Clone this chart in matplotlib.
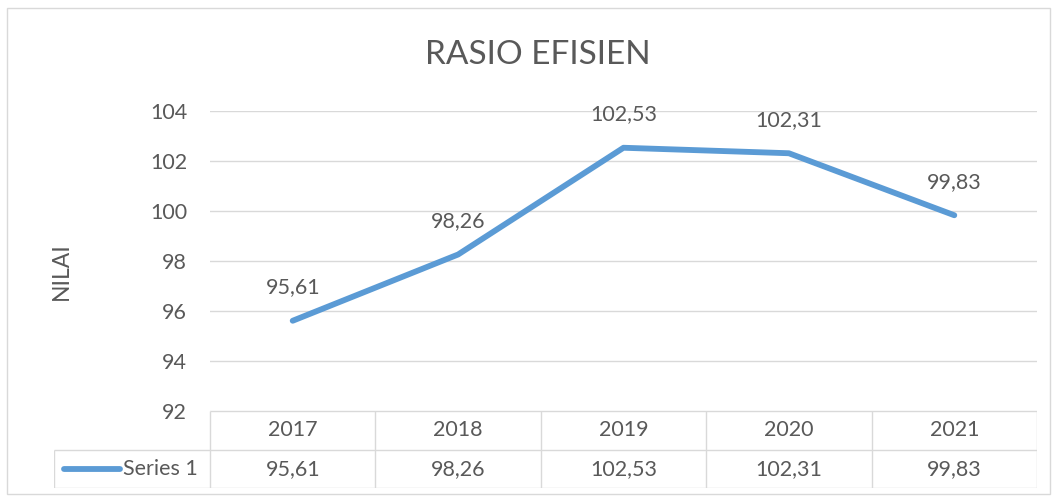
import matplotlib.pyplot as plt
from matplotlib.patches import Rectangle

plt.rcParams['font.family'] = ['Lato', 'DejaVu Sans']

years = ['2017', '2018', '2019', '2020', '2021']
values = [95.61, 98.26, 102.53, 102.31, 99.83]
series_name = 'Series 1'
yticks = [92, 94, 96, 98, 100, 102, 104]

LINE = '#5B9BD5'
TXT = '#595959'
GRID = '#d9d9d9'
FS = 15.5

W, H = 1057, 499
fig = plt.figure(figsize=(W / 100, H / 100), dpi=100)

# chart border
fig.patches.append(Rectangle((7 / W, 5 / H), 1043 / W, 486 / H, transform=fig.transFigure,
                             fill=False, edgecolor='#d9d9d9', linewidth=1))

# main plot area
ax = fig.add_axes([210 / W, (H - 411) / H, (1037 - 210) / W, 300 / H])
x = list(range(len(years)))
ax.plot(x, values, color=LINE, linewidth=4.2, solid_capstyle='round', solid_joinstyle='round', zorder=3)
for xi, v in zip(x, values):
    ax.annotate(f'{v:.2f}'.replace('.', ','), (xi, v), xytext=(0, 24), textcoords='offset points',
                ha='center', va='center', fontsize=FS, color=TXT)
ax.set_xlim(-0.5, len(years) - 0.5)
ax.set_ylim(92, 104)
ax.set_yticks(yticks)
ax.set_yticklabels([str(t) for t in yticks], fontsize=FS, color=TXT)
ax.tick_params(axis='y', length=0, pad=16.5)
ax.tick_params(axis='x', length=0, labelbottom=False)
ax.grid(axis='y', color=GRID, linewidth=1)
ax.set_axisbelow(True)
for s in ax.spines.values():
    s.set_visible(False)

fig.text(61 / W, (H - 271) / H, 'NILAI', rotation=90, ha='center', va='center', fontsize=16.5, color=TXT)
fig.text(538 / W, (H - 55) / H, 'RASIO EFISIEN', ha='center', va='center', fontsize=24, color=TXT)

# data table below the plot
lab_w = (210 - 54) / 165.4
tax = fig.add_axes([54 / W, (H - 488) / H, (1037 - 54) / W, 77 / H])
tax.set_xlim(-0.5 - lab_w, len(years) - 0.5)
tax.set_ylim(0, 2)
tax.axis('off')
left = -0.5 - lab_w
right = len(years) - 0.5
tax.hlines([0, 1], left, right, color=GRID, linewidth=1)
tax.hlines(2, -0.5, right, color=GRID, linewidth=1)
tax.vlines(left, 0, 1, color=GRID, linewidth=1)
tax.vlines([i - 0.5 for i in range(len(years) + 1)], 0, 2, color=GRID, linewidth=1)
for xi, yr, v in zip(x, years, values):
    tax.text(xi, 1.5, yr, ha='center', va='center', fontsize=FS, color=TXT)
    tax.text(xi, 0.5, f'{v:.2f}'.replace('.', ','), ha='center', va='center', fontsize=FS, color=TXT)
tax.plot([left + 0.06, left + 0.40], [0.5, 0.5], color=LINE, linewidth=4.2, solid_capstyle='round')
tax.text(left + 0.42, 0.5, series_name, ha='left', va='center', fontsize=FS, color=TXT)

fig.savefig('out.png', dpi=100)
